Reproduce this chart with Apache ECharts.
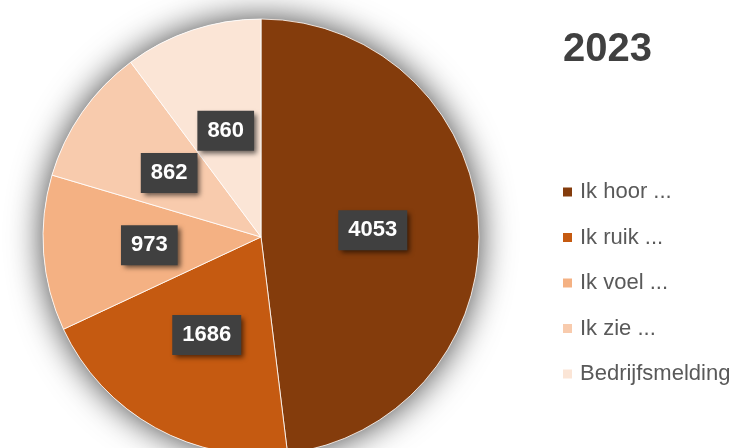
<!DOCTYPE html>
<html>
<head>
<meta charset="utf-8">
<script src="https://cdn.jsdelivr.net/npm/echarts@6/dist/echarts.min.js"></script>
<style>
html,body{margin:0;padding:0;background:#fff;}
#chart{width:734px;height:448px;}
</style>
</head>
<body>
<div id="chart"></div>
<script>
const categories = ['Ik hoor ...', 'Ik ruik ...', 'Ik voel ...', 'Ik zie ...', 'Bedrijfsmelding'];
const values = [4053, 1686, 973, 862, 860];
const colors = ['#843C0C', '#C55A11', '#F4B183', '#F8CBAD', '#FBE5D6'];
const chartTitle = '2023';

const total = values.reduce((a, b) => a + b, 0);
const center = [261, 237];
const radius = 218;

const chart = echarts.init(document.getElementById('chart'), null, {renderer: 'canvas'});
chart.setOption({
  animation: false,
  backgroundColor: '#ffffff',
  title: {
    text: chartTitle,
    left: 558,
    top: 25,
    textStyle: {fontFamily: 'Liberation Sans', fontSize: 40, fontWeight: 'bold', color: '#404040'}
  },
  legend: {
    orient: 'vertical',
    left: 556,
    top: 176,
    icon: 'rect',
    itemWidth: 11,
    itemHeight: 11,
    itemGap: 23.5,
    data: categories,
    textStyle: {fontFamily: 'Liberation Sans', fontSize: 22, color: '#595959', lineHeight: 22, padding: [0, 0, 0, 2]}
  },
  series: [
    {
      type: 'pie',
      silent: true,
      center: center,
      radius: radius,
      startAngle: 90,
      z: 1,
      label: {show: false},
      labelLine: {show: false},
      itemStyle: {color: '#ffffff', shadowBlur: 34, shadowColor: 'rgba(0,0,0,0.75)'},
      data: [{value: total, name: '__bg'}]
    },
    {
      type: 'pie',
      center: center,
      radius: radius,
      startAngle: 90,
      clockwise: true,
      z: 2,
      itemStyle: {borderColor: '#ffffff', borderWidth: 0.8},
      label: {
        show: true,
        position: 'inside',
        formatter: '{c}',
        fontFamily: 'Liberation Sans',
        fontSize: 22,
        fontWeight: 'bold',
        color: '#ffffff',
        lineHeight: 24,
        backgroundColor: '#404040',
        padding: [8, 10],
        shadowColor: 'rgba(0,0,0,0.6)',
        shadowBlur: 5,
        shadowOffsetX: 3,
        shadowOffsetY: 3
      },
      labelLine: {show: false},
      data: categories.map((c, i) => ({name: c, value: values[i], itemStyle: {color: colors[i]}}))
    }
  ]
});
</script>
</body>
</html>
